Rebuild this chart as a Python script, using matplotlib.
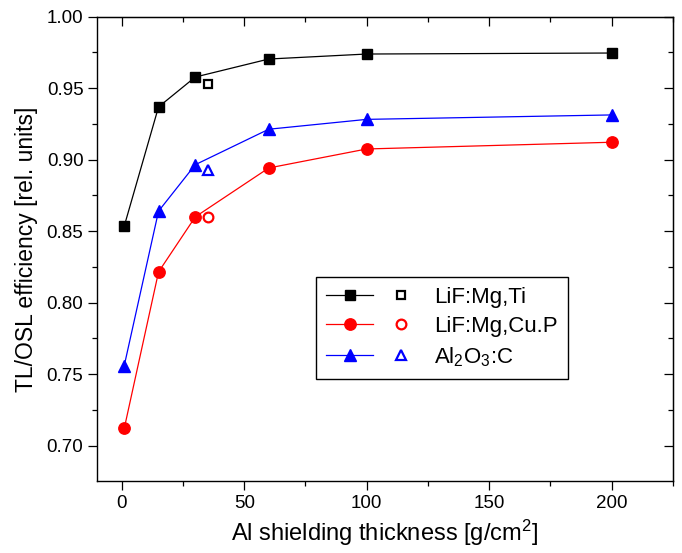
import numpy as np
import matplotlib
matplotlib.use('Agg')
from matplotlib import pyplot as plt
from matplotlib.legend_handler import HandlerTuple
from matplotlib.ticker import MultipleLocator

plt.rcParams['font.family'] = ['Liberation Sans', 'DejaVu Sans']
plt.rcParams['mathtext.fontset'] = 'custom'
plt.rcParams['mathtext.rm'] = 'Liberation Sans'
plt.rcParams['mathtext.it'] = 'Liberation Sans:italic'
plt.rcParams['mathtext.bf'] = 'Liberation Sans:bold'

# shielding thickness [g/cm2]
thick = [1, 15, 30, 60, 100, 200]
thick_open = [35]

lif_ti = [0.8536, 0.9369, 0.9578, 0.9704, 0.9739, 0.9746]
lif_cu = [0.7121, 0.8215, 0.8600, 0.8942, 0.9075, 0.9122]
al2o3 = [0.7560, 0.8640, 0.8965, 0.9213, 0.9282, 0.9313]

lif_ti_open = [0.9530]
lif_cu_open = [0.8597]
al2o3_open = [0.8925]

names = ['LiF:Mg,Ti', 'LiF:Mg,Cu.P', 'Al$_2$O$_3$:C']
colors = ['black', 'red', 'blue']
markers = ['s', 'o', '^']
msizes = [7.2, 8.2, 8.6]
osizes = [6.2, 7.0, 7.6]

fig = plt.figure(figsize=(6.82, 5.53), dpi=100)
ax = fig.add_axes([0.1427, 0.1302, 0.8437, 0.8396])

handles = []
for y, yo, c, m, ms, os_ in zip([lif_ti, lif_cu, al2o3],
                                [lif_ti_open, lif_cu_open, al2o3_open],
                                colors, markers, msizes, osizes):
	l1, = ax.plot(thick, y, color=c, lw=0.9, marker=m, ms=ms, mec=c, mfc=c)
	l2, = ax.plot(thick_open, yo, ls='none', marker=m, ms=os_, mec=c, mfc='none', mew=1.6)
	handles.append((l1, l2))

ax.set_xlim(-10, 225)
ax.set_ylim(0.6753, 1.0)
ax.xaxis.set_major_locator(MultipleLocator(50))
ax.xaxis.set_minor_locator(MultipleLocator(25))
ax.yaxis.set_major_locator(MultipleLocator(0.05))
ax.yaxis.set_minor_locator(MultipleLocator(0.025))
ax.yaxis.set_major_formatter(matplotlib.ticker.FormatStrFormatter('%.2f'))

for s in ax.spines.values():
	s.set_linewidth(1.0)
ax.tick_params(which='both', direction='out', width=0.9, labelsize=13.5, top=False, right=False)
ax.tick_params(which='major', length=6.5)
ax.tick_params(which='minor', length=3.5)
# inward ticks on top and right
ax2 = ax.secondary_xaxis('top')
ax2.xaxis.set_major_locator(MultipleLocator(50))
ax2.xaxis.set_minor_locator(MultipleLocator(25))
ax2.tick_params(which='both', direction='in', width=0.9, labeltop=False)
ax2.tick_params(which='major', length=6.5)
ax2.tick_params(which='minor', length=3.5)
ax3 = ax.secondary_yaxis('right')
ax3.yaxis.set_major_locator(MultipleLocator(0.05))
ax3.yaxis.set_minor_locator(MultipleLocator(0.025))
ax3.tick_params(which='both', direction='in', width=0.9, labelright=False)
ax3.tick_params(which='major', length=6.5)
ax3.tick_params(which='minor', length=3.5)

ax.set_xlabel('Al shielding thickness [g/cm$^2$]', fontsize=17, labelpad=4)
ax.set_ylabel('TL/OSL efficiency [rel. units]', fontsize=16.5, labelpad=6)

leg = ax.legend(handles, names, handler_map={tuple: HandlerTuple(ndivide=2, pad=0.2)},
	loc='upper left', bbox_to_anchor=(0.38, 0.4394), borderaxespad=0,
	fontsize=16, handlelength=4.44, handletextpad=0.43, borderpad=0.45,
	labelspacing=0.36, fancybox=False, edgecolor='black', framealpha=1)
leg.get_frame().set_linewidth(1.0)

plt.savefig('out.png', dpi=100)
